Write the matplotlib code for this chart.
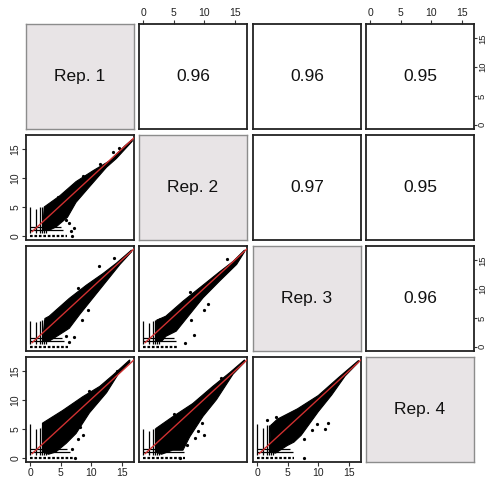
import matplotlib
matplotlib.use("Agg")
import matplotlib.pyplot as plt
import numpy as np

plt.rcParams['font.family'] = ['Liberation Sans', 'DejaVu Sans']

# diagonal labels and upper-triangle correlations
rep_labels = ["Rep. 1", "Rep. 2", "Rep. 3", "Rep. 4"]
corr_r1 = ["0.96", "0.96", "0.95"]   # row 1, cols 2..4
corr_r2 = ["0.97", "0.95"]           # row 2, cols 3..4
corr_r3 = ["0.96"]                   # row 3, col 4
tick_vals = [0, 5, 10, 15]

# red fit line (same in every panel)
fit_x = [0.3, 17.0]
fit_y = [0.7, 17.0]

# low-count stripes (log2 of small counts)
stripe_x = [0.0, 1.0, 1.58, 2.0, 2.32, 2.58]
hstripe_y = [1.0, 1.58]

# point cloud envelopes: (x, y) along upper edge then lower edge
r2c1_upper = [(2.0, 1.0), (2.3, 5.0), (4.8, 6.9), (7.5, 9.4), (10.3, 11.3), (13.0, 13.0), (15.5, 15.6), (16.7, 16.7)]
r2c1_lower = [(16.7, 16.4), (14.1, 13.4), (12.5, 11.9), (9.7, 8.5), (7.5, 5.8), (6.1, 3.2), (4.2, 1.5), (3.0, 0.9)]
r2c1_stripe_top = [4.9, 4.6, 4.9, 5.0, 5.0, 5.0]
r2c1_hstripe_end = [5.3, 5.0]
r2c1_zero_row = [0.0, 6.0]
r2c1_out_x = [6.7, 7.1, 6.4, 5.9, 13.5, 14.5, 4.5, 6.8, 8.6, 11.4]
r2c1_out_y = [0.9, 1.3, 2.2, 2.8, 14.5, 15.2, 6.8, 0.0, 10.4, 12.4]

r3c1_upper = [(2.0, 1.0), (2.4, 4.9), (3.1, 5.3), (6.4, 8.4), (9.2, 10.7), (11.9, 12.7), (14.1, 14.5), (16.6, 16.8)]
r3c1_lower = [(16.6, 16.5), (14.7, 14.3), (12.5, 11.4), (10.3, 8.5), (8.1, 5.6), (6.4, 3.2), (4.8, 2.1), (3.0, 0.9)]
r3c1_stripe_top = [4.4, 4.3, 4.4, 4.6, 4.6, 4.8]
r3c1_hstripe_end = [5.6, 5.2]
r3c1_zero_row = [0.0, 6.2]
r3c1_out_x = [6.4, 7.2, 8.4, 9.4, 11.2, 13.7, 5.8, 7.9]
r3c1_out_y = [0.9, 1.6, 4.6, 6.4, 14.0, 15.4, 1.9, 10.2]

r3c2_upper = [(2.0, 1.0), (2.2, 4.6), (3.7, 5.3), (6.5, 7.9), (9.8, 10.7), (12.5, 13.0), (14.7, 14.8), (16.6, 16.8)]
r3c2_lower = [(16.6, 16.5), (15.3, 14.3), (12.5, 11.4), (9.8, 8.5), (7.6, 5.6), (5.4, 2.7), (3.7, 1.8), (3.0, 0.9)]
r3c2_stripe_top = [4.4, 4.2, 4.5, 4.6, 4.8, 4.9]
r3c2_hstripe_end = [5.4, 5.0]
r3c2_zero_row = [0.0, 5.6]
r3c2_out_x = [7.8, 9.9, 10.6, 6.9, 4.8, 8.3, 13.8, 7.6]
r3c2_out_y = [4.6, 6.3, 7.5, 0.6, 6.2, 2.0, 15.2, 9.5]

r4c1_upper = [(2.0, 1.0), (2.0, 6.0), (5.3, 8.2), (8.6, 10.6), (11.4, 12.4), (13.6, 14.4), (16.3, 17.0)]
r4c1_lower = [(16.3, 16.6), (14.4, 14.5), (12.5, 11.3), (9.7, 7.8), (7.5, 4.2), (5.9, 2.5), (4.2, 1.0), (3.0, 0.6)]
r4c1_stripe_top = [5.9, 5.0, 5.2, 5.3, 5.4, 5.6]
r4c1_hstripe_end = [6.5, 6.0]
r4c1_zero_row = [0.0, 7.0]
r4c1_out_x = [8.1, 7.4, 7.9, 8.6, 6.9, 10.5, 14.2, 9.6]
r4c1_out_y = [5.3, 0.0, 3.2, 4.0, 1.5, 10.9, 15.0, 11.6]

r4c2_upper = [(2.0, 1.0), (2.1, 5.1), (4.8, 7.1), (8.1, 9.4), (11.4, 12.4), (14.2, 14.8), (16.6, 17.0)]
r4c2_lower = [(16.6, 16.6), (14.7, 14.5), (12.0, 10.1), (9.8, 7.2), (7.6, 3.6), (6.5, 1.3), (4.8, 1.3), (3.0, 0.6)]
r4c2_stripe_top = [4.9, 4.6, 5.0, 5.1, 5.1, 5.1]
r4c2_hstripe_end = [6.6, 6.2]
r4c2_zero_row = [0.0, 6.8]
r4c2_out_x = [8.4, 8.9, 7.2, 9.6, 6.1, 12.8, 9.9, 5.0]
r4c2_out_y = [3.4, 4.6, 2.2, 6.0, 0.0, 13.8, 4.0, 7.6]

r4c3_upper = [(2.0, 1.0), (2.2, 5.6), (3.3, 6.7), (6.6, 8.5), (10.0, 10.8), (13.3, 13.9), (16.6, 16.9)]
r4c3_lower = [(16.6, 16.6), (14.4, 14.2), (12.2, 10.9), (10.0, 8.0), (7.2, 3.9), (6.0, 2.7), (4.9, 2.1), (3.0, 0.8)]
r4c3_stripe_top = [5.8, 5.2, 5.6, 5.7, 5.8, 5.9]
r4c3_hstripe_end = [5.8, 5.4]
r4c3_zero_row = [0.0, 6.0]
r4c3_out_x = [11.1, 11.6, 9.0, 9.8, 7.6, 1.6, 3.1, 7.7]
r4c3_out_y = [5.0, 6.0, 4.8, 5.8, 0.0, 6.6, 7.0, 3.2]

lower_panels = {
    (1, 0): (r2c1_upper, r2c1_lower, r2c1_stripe_top, r2c1_hstripe_end, r2c1_zero_row, r2c1_out_x, r2c1_out_y),
    (2, 0): (r3c1_upper, r3c1_lower, r3c1_stripe_top, r3c1_hstripe_end, r3c1_zero_row, r3c1_out_x, r3c1_out_y),
    (2, 1): (r3c2_upper, r3c2_lower, r3c2_stripe_top, r3c2_hstripe_end, r3c2_zero_row, r3c2_out_x, r3c2_out_y),
    (3, 0): (r4c1_upper, r4c1_lower, r4c1_stripe_top, r4c1_hstripe_end, r4c1_zero_row, r4c1_out_x, r4c1_out_y),
    (3, 1): (r4c2_upper, r4c2_lower, r4c2_stripe_top, r4c2_hstripe_end, r4c2_zero_row, r4c2_out_x, r4c2_out_y),
    (3, 2): (r4c3_upper, r4c3_lower, r4c3_stripe_top, r4c3_hstripe_end, r4c3_zero_row, r4c3_out_x, r4c3_out_y),
}
upper_text = {(0, 1): corr_r1[0], (0, 2): corr_r1[1], (0, 3): corr_r1[2],
              (1, 2): corr_r2[0], (1, 3): corr_r2[1], (2, 3): corr_r3[0]}

W, H = 488, 480
col_left = [26, 139, 253, 366]
row_top = [24, 135, 246, 357]
pw, ph = 108, 105

fig = plt.figure(figsize=(W / 100, H / 100), dpi=100)
fig.patch.set_facecolor('white')

for r in range(4):
    for c in range(4):
        ax = fig.add_axes([col_left[c] / W, 1 - (row_top[r] + ph) / H, pw / W, ph / H])
        ax.set_xlim(-0.7, 17.0)
        ax.set_ylim(-0.75, 17.5)
        ax.set_xticks([])
        ax.set_yticks([])

        if r == c:
            ax.set_facecolor('#e8e4e6')
            for s in ax.spines.values():
                s.set_color('#8c8c8c')
                s.set_linewidth(1.0)
            ax.text(0.5, 0.5, rep_labels[r], transform=ax.transAxes,
                    ha='center', va='center', fontsize=12.5, color='#111111')
        else:
            for s in ax.spines.values():
                s.set_color('#222222')
                s.set_linewidth(1.3)

        if (r, c) in upper_text:
            ax.text(0.5, 0.5, upper_text[(r, c)], transform=ax.transAxes,
                    ha='center', va='center', fontsize=12.5, color='#111111')

        if (r, c) in lower_panels:
            up, lo, stop, hend, zrow, ox, oy = lower_panels[(r, c)]
            poly = up + lo
            ax.fill([p[0] for p in poly], [p[1] for p in poly],
                    color='black', lw=0.8, ec='black', zorder=2)
            ax.vlines(stripe_x, 0.4, stop, color='black', lw=0.9, zorder=2)
            ax.hlines(hstripe_y, 0.0, hend, color='black', lw=0.9, zorder=2)
            ax.plot(zrow, [0, 0], color='black', lw=1.6,
                    linestyle=(0, (1.2, 0.8)), zorder=2)
            ax.plot(ox, oy, 'o', ms=1.3, color='black', zorder=2)
            ax.plot(fit_x, fit_y, color='#d03030', lw=1.0, zorder=3)

        # R pairs style alternating axes
        tk = dict(length=3, width=0.8, color='#333333', labelsize=7.5,
                  labelcolor='#222222', pad=1.2)
        if r == 0 and c in (1, 3):
            ax.set_xticks(tick_vals)
            ax.xaxis.tick_top()
            ax.tick_params(axis='x', **tk)
        if r == 3 and c in (0, 2):
            ax.set_xticks(tick_vals)
            ax.tick_params(axis='x', **tk)
        if c == 0 and r in (1, 3):
            ax.set_yticks(tick_vals)
            ax.tick_params(axis='y', **tk)
            for lb in ax.get_yticklabels():
                lb.set_rotation(90)
                lb.set_va('center')
        if c == 3 and r in (0, 2):
            ax.set_yticks(tick_vals)
            ax.yaxis.tick_right()
            ax.tick_params(axis='y', **dict(tk, length=2.5, pad=0.3, labelsize=6.8))
            for lb in ax.get_yticklabels():
                lb.set_rotation(90)
                lb.set_va('center')

fig.savefig('out.png', dpi=100)
